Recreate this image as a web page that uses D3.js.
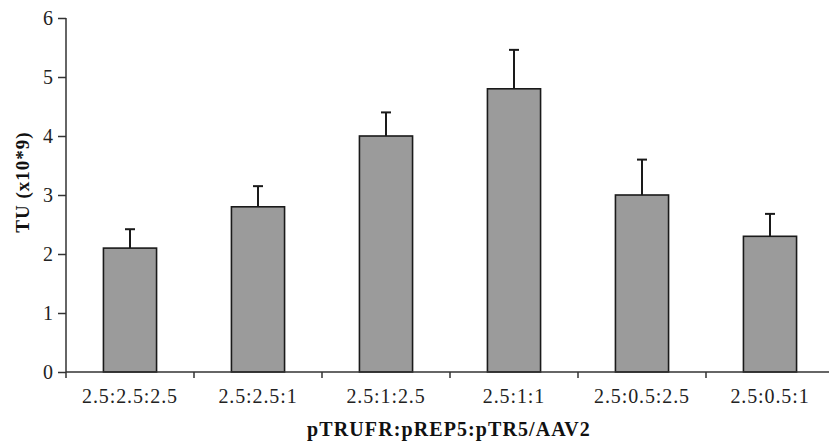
<!DOCTYPE html>
<meta charset="utf-8">
<style>
  body { margin: 0; padding: 0; background: white; }
  svg { background: white; display: block; }
  text { font-family: 'Liberation Serif', 'Times New Roman', serif; }
</style>
<script src="https://d3js.org/d3.v7.min.js"></script>
<svg id="vis"></svg>
<script>

var width = 829, height = 442;

// data
var groups = ["2.5:2.5:2.5", "2.5:2.5:1", "2.5:1:2.5", "2.5:1:1", "2.5:0.5:2.5", "2.5:0.5:1"];
var means  = [2.1, 2.8, 4.0, 4.8, 3.0, 2.3];
var errors = [0.32, 0.35, 0.4, 0.66, 0.6, 0.38];
var yTicks = [0, 1, 2, 3, 4, 5, 6];

var margin = {left: 66, right: -5, top: 18, bottom: 70};

var svg = d3.select("#vis")
  .attr("width", width)
  .attr("height", height);

var x = d3.scaleBand()
  .domain(groups)
  .range([margin.left, width - margin.right])
  .paddingInner(0.585)
  .paddingOuter(0.2925);

// boundaries between categories (ticks sit there, not under the bars)
var step = x.step();
var x0 = margin.left;

var y = d3.scaleLinear()
  .domain([0, 6])
  .range([height - margin.bottom, margin.top]);

// bars
svg.append("g")
  .selectAll("rect")
  .data(groups)
  .enter()
  .append("rect")
    .attr("x", d => x(d))
    .attr("width", x.bandwidth())
    .attr("y", (d, i) => y(means[i]))
    .attr("height", (d, i) => y(0) - y(means[i]))
    .attr("fill", "#9b9b9b")
    .attr("stroke", "#1a1a1a")
    .attr("stroke-width", 1.6);

// error bars, upper half only
var err = svg.append("g")
  .attr("stroke", "#1a1a1a")
  .attr("stroke-width", 2);

err.selectAll("line.stem")
  .data(groups)
  .enter()
  .append("line")
    .attr("class", "stem")
    .attr("x1", d => x(d) + x.bandwidth() / 2)
    .attr("x2", d => x(d) + x.bandwidth() / 2)
    .attr("y1", (d, i) => y(means[i]))
    .attr("y2", (d, i) => y(means[i] + errors[i]));

err.selectAll("line.cap")
  .data(groups)
  .enter()
  .append("line")
    .attr("class", "cap")
    .attr("x1", d => x(d) + x.bandwidth() / 2 - 5)
    .attr("x2", d => x(d) + x.bandwidth() / 2 + 5)
    .attr("y1", (d, i) => y(means[i] + errors[i]))
    .attr("y2", (d, i) => y(means[i] + errors[i]));

// y axis
var yAxis = svg.append("g")
  .attr("transform", "translate(" + margin.left + ",0)")
  .call(d3.axisLeft(y).tickValues(yTicks).tickSize(8).tickPadding(5).tickFormat(d3.format("d")));
yAxis.attr("font-family", null);
yAxis.select(".domain").attr("stroke", "#333").attr("stroke-width", 1.5).attr("d", "M0," + y(6) + "V" + y(0));
yAxis.selectAll(".tick line").attr("stroke", "#333").attr("stroke-width", 1.5);
yAxis.selectAll(".tick text")
  .attr("font-size", 20)
  .attr("fill", "#222")
  .attr("dy", "0.33em");

// x axis: line plus boundary ticks
var xAxis = svg.append("g")
  .attr("transform", "translate(0," + y(0) + ")");
xAxis.append("line")
  .attr("x1", x0).attr("x2", width)
  .attr("stroke", "#333").attr("stroke-width", 1.5);
xAxis.selectAll("line.tk")
  .data(d3.range(groups.length + 1))
  .enter()
  .append("line")
    .attr("class", "tk")
    .attr("x1", i => x0 + i * step)
    .attr("x2", i => x0 + i * step)
    .attr("y1", 0).attr("y2", 6)
    .attr("stroke", "#333").attr("stroke-width", 1.5);
xAxis.selectAll("text")
  .data(groups)
  .enter()
  .append("text")
    .attr("x", d => x(d) + x.bandwidth() / 2)
    .attr("y", 31)
    .attr("text-anchor", "middle")
    .attr("font-size", 20)
    .attr("letter-spacing", "0.9px")
    .attr("fill", "#222")
    .text(d => d);

// axis titles
svg.append("text")
  .attr("x", 449)
  .attr("y", 436)
  .attr("text-anchor", "middle")
  .attr("font-weight", "bold")
  .attr("font-size", 20)
  .attr("letter-spacing", "1.1px")
  .attr("fill", "#111")
  .text("pTRUFR:pREP5:pTR5/AAV2");

svg.append("text")
  .attr("transform", "translate(29,182) rotate(-90)")
  .attr("text-anchor", "middle")
  .attr("font-weight", "bold")
  .attr("font-size", 19)
  .attr("letter-spacing", "1px")
  .attr("fill", "#111")
  .text("TU (x10*9)");

</script>
